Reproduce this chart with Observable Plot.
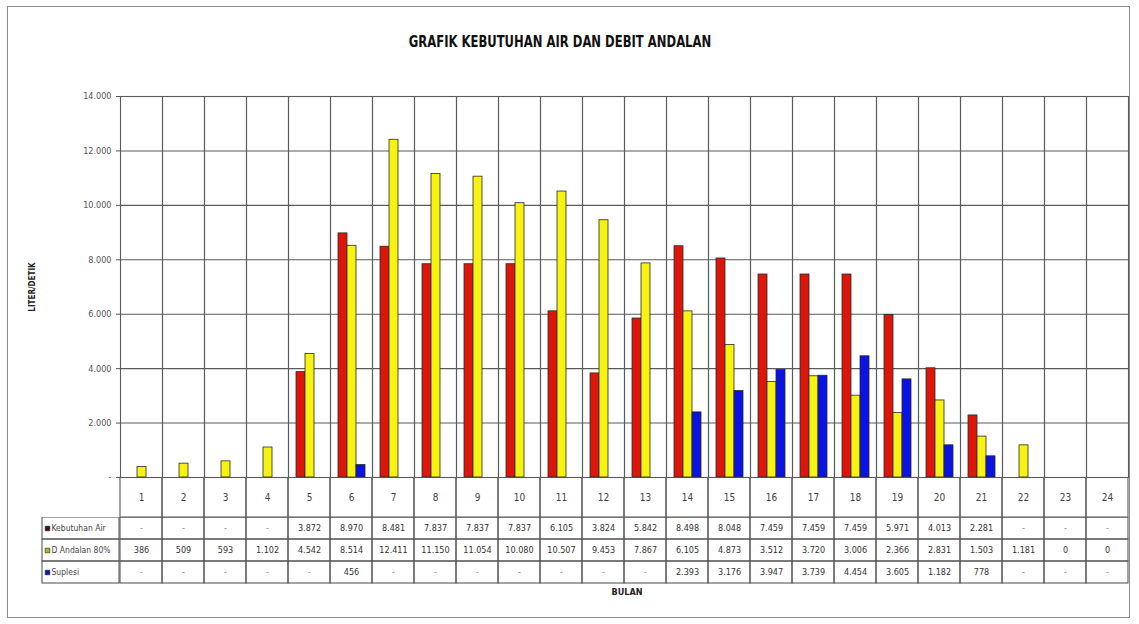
<!DOCTYPE html>
<html>
<head>
<meta charset="utf-8">
<script src="https://cdn.jsdelivr.net/npm/d3@7"></script>
<script src="https://cdn.jsdelivr.net/npm/@observablehq/plot@0.6"></script>
<style>
  html, body { margin: 0; padding: 0; background: #fff; }
  body { width: 1139px; height: 624px; position: relative; overflow: hidden;
         font-family: "Liberation Sans Narrow", "Arial Narrow", "DejaVu Sans Condensed", "Liberation Sans", sans-serif; }
  .abs { position: absolute; }
  #border { left: 7px; top: 6px; width: 1123px; height: 612px; border: 1.5px solid #8c8c8c; box-sizing: border-box; }
  #title { left: 560px; top: 42px; transform: translate(-50%, -50%) scaleX(0.86); font-weight: bold; font-size: 15px; color: #111; white-space: nowrap; }
  #ylabel { left: 32px; top: 287px; transform: translate(-50%, -50%) rotate(-90deg); font-weight: bold; font-size: 8px; color: #222; white-space: nowrap; }
  #xlabel { left: 627px; top: 592px; transform: translate(-50%, -50%); font-weight: bold; font-size: 9px; color: #222; }
  svg { font-family: "Liberation Sans Narrow", "Arial Narrow", "DejaVu Sans Condensed", "Liberation Sans", sans-serif; }
</style>
</head>
<body>
<div id="border" class="abs"></div>
<div id="title" class="abs">GRAFIK KEBUTUHAN AIR DAN DEBIT ANDALAN</div>
<div id="ylabel" class="abs">LITER/DETIK</div>
<div id="xlabel" class="abs">BULAN</div>
<div id="chart" class="abs" style="left:0;top:0"></div>
<div id="cats" class="abs" style="left:0;top:477px"></div>
<div id="table" class="abs" style="left:0;top:517px"></div>
<div id="legend" class="abs" style="left:0;top:517px"></div>
<script>
// ---- data ----
const months = d3.range(1, 25);
const seriesNames = ["Kebutuhan Air", "D Andalan 80%", "Suplesi"];
const kebutuhanAir = [null, null, null, null, 3872, 8970, 8481, 7837, 7837, 7837, 6105, 3824, 5842, 8498, 8048, 7459, 7459, 7459, 5971, 4013, 2281, null, null, null];
const debitAndalan = [386, 509, 593, 1102, 4542, 8514, 12411, 11150, 11054, 10080, 10507, 9453, 7867, 6105, 4873, 3512, 3720, 3006, 2366, 2831, 1503, 1181, 0, 0];
const suplesi = [null, null, null, null, null, 456, null, null, null, null, null, null, null, 2393, 3176, 3947, 3739, 4454, 3605, 1182, 778, null, null, null];
const yTicks = [0, 2000, 4000, 6000, 8000, 10000, 12000, 14000];
const seriesColors = ["#dc160b", "#f6f212", "#0a12e4"];

const seriesValues = [kebutuhanAir, debitAndalan, suplesi];
const rows = [];
seriesNames.forEach((s, i) => months.forEach((m, j) => rows.push({month: m, series: s, value: seriesValues[i][j]})));
const bars = rows.filter(d => d.value != null);

const fmtNum = v => v == null ? "-" : (v >= 1000 ? d3.format(",")(v).replace(/,/g, ".") : String(v));
const fmtTick = v => v === 0 ? "-" : d3.format(",")(v).replace(/,/g, ".");
const gridColor = "#5a5a5a";
const W = 1139, ML = 119, MR = 11;

// ---- main chart ----
const chart = Plot.plot({
  width: W, height: 492,
  marginTop: 96, marginBottom: 15, marginLeft: ML, marginRight: MR,
  style: {fontSize: "9px", color: "#555", background: "transparent"},
  fx: {domain: months, padding: 0, axis: null, label: null},
  x: {domain: seriesNames, paddingInner: 0, paddingOuter: 0.7, axis: null},
  y: {domain: [0, 14000], ticks: yTicks, tickFormat: fmtTick, tickSize: 4, tickPadding: 5, label: null},
  color: {domain: seriesNames, range: seriesColors},
  marks: [
    Plot.gridY(yTicks, {stroke: gridColor, strokeOpacity: 1, strokeWidth: 1.1}),
    Plot.frame({stroke: gridColor, strokeWidth: 1.1}),
    Plot.barY(bars, {fx: "month", x: "series", y: "value", fill: "series", stroke: "#2a2a2a", strokeWidth: 0.8})
  ]
});
document.getElementById("chart").appendChild(chart);

// ---- category row ----
const cats = Plot.plot({
  width: W, height: 41, marginTop: 0, marginBottom: 1, marginLeft: ML, marginRight: MR,
  style: {fontSize: "10px", color: "#444", background: "transparent"},
  x: {type: "band", domain: months, padding: 0, axis: null},
  marks: [
    Plot.cell(months, {x: d => d, fill: "none", stroke: gridColor, strokeWidth: 1.1}),
    Plot.text(months, {x: d => d, text: d => String(d), fill: "#444"})
  ]
});
document.getElementById("cats").appendChild(cats);

// ---- data table ----
const table = Plot.plot({
  width: W, height: 67, marginTop: 0, marginBottom: 1, marginLeft: ML, marginRight: MR,
  style: {fontSize: "9px", color: "#333", background: "transparent"},
  x: {type: "band", domain: months, padding: 0, axis: null},
  y: {type: "band", domain: seriesNames, padding: 0, axis: null},
  marks: [
    Plot.cell(rows, {x: "month", y: "series", fill: "none", stroke: gridColor, strokeWidth: 1.1}),
    Plot.text(rows, {x: "month", y: "series", text: d => fmtNum(d.value), fill: d => d.value == null ? "#888" : "#333"})
  ]
});
document.getElementById("table").appendChild(table);

// ---- legend column ----
const legend = Plot.plot({
  width: ML + 1, height: 67, marginTop: 0, marginBottom: 1, marginLeft: 42, marginRight: 1,
  style: {fontSize: "8.5px", color: "#333", background: "transparent"},
  y: {type: "band", domain: seriesNames, padding: 0, axis: null},
  color: {domain: seriesNames, range: ["#3a1010", "#b8b020", "#1010c0"]},
  marks: [
    Plot.cell(seriesNames, {y: d => d, fill: "none", stroke: gridColor, strokeWidth: 1.1}),
    Plot.dot(seriesNames, {y: d => d, frameAnchor: "left", dx: 5, symbol: "square", r: 2.6, fill: d => d, stroke: "#222", strokeWidth: 0.6}),
    Plot.text(seriesNames, {y: d => d, text: d => d, frameAnchor: "left", dx: 9, textAnchor: "start", fill: "#444"})
  ]
});
document.getElementById("legend").appendChild(legend);
</script>
</body>
</html>
